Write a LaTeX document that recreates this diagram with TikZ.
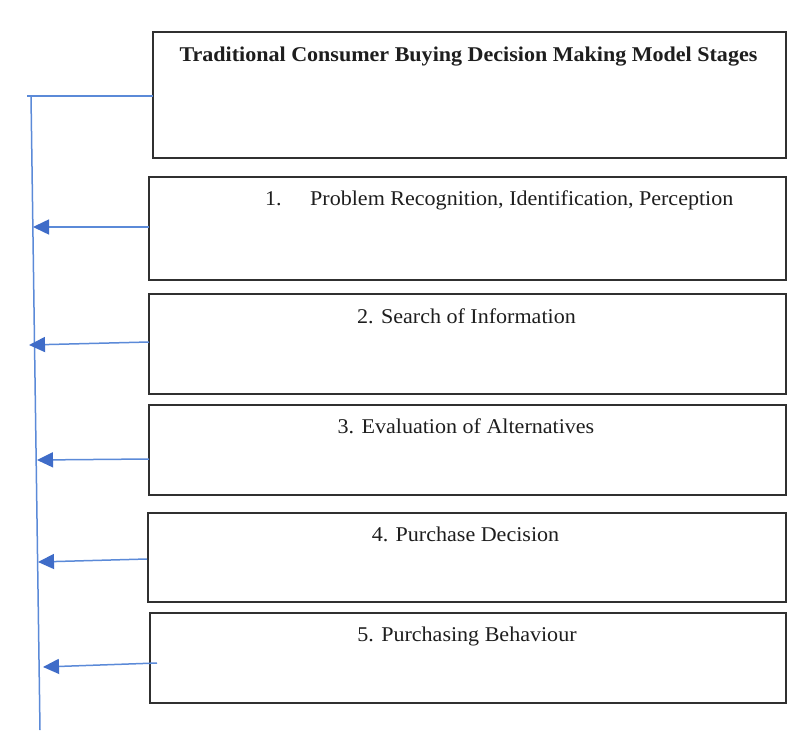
\documentclass[tikz,border=0pt]{standalone}
\usepackage{fontspec}
\setmainfont[FakeStretch=1.05]{Liberation Serif}
\usetikzlibrary{arrows.meta}
\definecolor{lineblue}{HTML}{5B8AD8}
\definecolor{tipblue}{HTML}{3F6CC8}
\definecolor{boxgray}{HTML}{303030}
\definecolor{txt}{HTML}{1E1E1E}
\begin{document}
\begin{tikzpicture}[x=1pt,y=-1pt,
  box/.style={draw=boxgray,line width=1.6pt,inner sep=0pt,outer sep=0pt,fill=white},
  lbl/.style={inner sep=0pt,text=txt,font=\fontsize{21}{24}\selectfont},
  ttl/.style={inner sep=0pt,text=txt,font=\fontsize{21}{24}\selectfont\bfseries},
  link/.style={draw=lineblue,line width=1.5pt},
  arr/.style={link,-{Triangle[length=16pt,width=15pt,fill=tipblue,color=tipblue]}}]
\useasboundingbox[fill=white] (0,0) rectangle (794,743);
% boxes
\node[box,minimum width=633pt,minimum height=126pt] (t)  at (469.5,95) {};
\node[box,minimum width=637pt,minimum height=103pt] (b1) at (467.5,228.5) {};
\node[box,minimum width=637pt,minimum height=100pt] (b2) at (467.5,344) {};
\node[box,minimum width=637pt,minimum height=90pt]  (b3) at (467.5,450) {};
\node[box,minimum width=638pt,minimum height=89pt]  (b4) at (467,557.5) {};
\node[box,minimum width=636pt,minimum height=90pt]  (b5) at (468,658) {};
% texts
\node[ttl,anchor=base] (tt) at (468.5,62) {Traditional Consumer Buying Decision Making Model Stages};
\node[lbl,anchor=base west] (n1) at (265,205.5) {1.};
\node[lbl,anchor=base west] (l1) at (310,205.5) {Problem Recognition, Identification, Perception};
\node[lbl,anchor=base] (l2) at (466.5,323) {2. Search of Information};
\node[lbl,anchor=base] (l3) at (466,433) {3. Evaluation of Alternatives};
\node[lbl,anchor=base] (l4) at (465.5,541.5) {4. Purchase Decision};
\node[lbl,anchor=base] (l5) at (467,641.5) {5. Purchasing Behaviour};
% spine
\coordinate (top) at (27,96);
\coordinate (vtop) at (31,96);
\coordinate (vbot) at (40,730);
\coordinate (e1) at (33,227);
\coordinate (e2) at (29,345);
\coordinate (e3) at (37,460);
\coordinate (e4) at (38,562);
\coordinate (e5) at (43,667);
\draw[link] (t.west |- top) -- (top);
\draw[link] (vtop) -- (vbot);
\draw[arr] ([yshift=1.5pt]b1.west) -- (e1);
\draw[arr] ([yshift=2pt]b2.west) -- (e2);
\draw[arr] ([yshift=-9pt]b3.west) -- (e3);
\draw[arr] ([xshift=-1pt,yshift=-1.5pt]b4.west) -- (e4);
\draw[arr] ([xshift=7pt,yshift=-5pt]b5.west) -- (e5);
\end{tikzpicture}
\end{document}
